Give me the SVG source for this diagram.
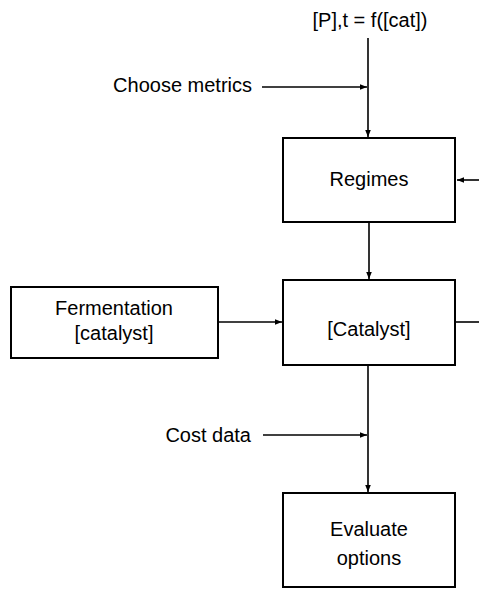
<svg xmlns="http://www.w3.org/2000/svg" width="479" height="589" viewBox="0 0 479 589">
<style>
.box{fill:#fff;stroke:#000;stroke-width:2}
.ln{fill:none;stroke:#000;stroke-width:1.6}
.t{font-family:"Liberation Sans",Arial,sans-serif;font-size:20px;fill:#000}
.m{text-anchor:middle}
.e{text-anchor:end}
</style>
<defs>
<marker id="ah" viewBox="0 0 10 10" refX="10" refY="5" markerWidth="7" markerHeight="7" markerUnits="userSpaceOnUse" orient="auto">
<path d="M0,1 L10,5 L0,9 z" fill="#000"/>
</marker>
</defs>
<rect width="479" height="589" fill="#fff"/>
<g id="connectors">
<line class="ln" x1="368" y1="38" x2="368" y2="137" marker-end="url(#ah)"/>
<line class="ln" x1="262" y1="87" x2="367" y2="87" marker-end="url(#ah)"/>
<line class="ln" x1="479" y1="180" x2="457" y2="180" marker-end="url(#ah)"/>
<line class="ln" x1="369" y1="222" x2="369" y2="279" marker-end="url(#ah)"/>
<line class="ln" x1="218" y1="322" x2="282" y2="322" marker-end="url(#ah)"/>
<line class="ln" x1="455" y1="322" x2="479" y2="322"/>
<line class="ln" x1="368" y1="365" x2="368" y2="492" marker-end="url(#ah)"/>
<line class="ln" x1="263" y1="435" x2="367" y2="435" marker-end="url(#ah)"/>
</g>
<g id="top-label"><text class="t m" x="370" y="27">[P],t = f([cat])</text></g>
<g id="choose-metrics"><text class="t e" x="252" y="92">Choose metrics</text></g>
<g id="cost-data"><text class="t e" x="251" y="442">Cost data</text></g>
<g id="regimes">
<rect class="box" x="283" y="138" width="172" height="84"/>
<text class="t m" x="369" y="186">Regimes</text>
</g>
<g id="fermentation">
<rect class="box" x="11" y="287" width="207" height="71"/>
<text class="t m" x="114" y="315">Fermentation</text>
<text class="t m" x="114" y="340">[catalyst]</text>
</g>
<g id="catalyst">
<rect class="box" x="283" y="280" width="172" height="85"/>
<text class="t m" x="369" y="336">[Catalyst]</text>
</g>
<g id="evaluate">
<rect class="box" x="283" y="493" width="172" height="94"/>
<text class="t m" x="369" y="536">Evaluate</text>
<text class="t m" x="369" y="565">options</text>
</g>
</svg>
